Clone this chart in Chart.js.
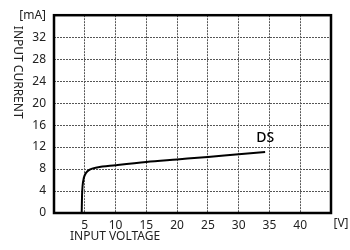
<!DOCTYPE html>
<html>
<head>
<meta charset="utf-8">
<script src="https://cdn.jsdelivr.net/npm/chart.js@4"></script>
<style>
  html, body { margin: 0; padding: 0; background: #fff; }
  #wrap { width: 350px; height: 250px; }
</style>
</head>
<body>
<div id="wrap"><canvas id="chart"></canvas></div>
<script>
// values
const voltage = [4.5, 4.55, 4.65, 4.85, 5.2, 5.8, 7, 10, 15, 20, 25, 30, 34.3];
const current = [0, 3, 5, 6.4, 7.3, 7.9, 8.3, 8.7, 9.3, 9.75, 10.2, 10.7, 11.1];
const seriesName = 'DS';
const xTitle = 'INPUT VOLTAGE';
const yTitle = 'INPUT CURRENT';
const xUnit = '[V]';
const yUnit = '[mA]';

const fontFamily = '"Noto Sans", sans-serif';
const textColor = '#222';

const extras = {
    id: 'extras',
    afterDraw(chart) {
        const ctx = chart.ctx;
        const area = chart.chartArea;
        const xs = chart.scales.x;
        const ys = chart.scales.y;
        ctx.save();
        // frame round the plot
        ctx.strokeStyle = '#000';
        ctx.lineWidth = 2.5;
        ctx.strokeRect(area.left, area.top, area.right - area.left, area.bottom - area.top);

        ctx.fillStyle = textColor;
        ctx.font = '12px ' + fontFamily;
        ctx.textBaseline = 'middle';
        ctx.textAlign = 'center';
        ctx.fillText(xUnit, area.right + 10, area.bottom + 11);

        ctx.textAlign = 'left';
        ctx.fillText(xTitle, area.left + 16, area.bottom + 24);

        ctx.translate(17, area.top + 57);
        ctx.rotate(Math.PI / 2);
        ctx.textAlign = 'center';
        ctx.fillText(yTitle, 0, 0);
        ctx.restore();

        // series label above the end of the curve
        const last = voltage.length - 1;
        ctx.save();
        ctx.fillStyle = '#000';
        ctx.font = '500 14px ' + fontFamily;
        ctx.textAlign = 'center';
        ctx.textBaseline = 'middle';
        ctx.fillText(seriesName, xs.getPixelForValue(voltage[last]), ys.getPixelForValue(current[last]) - 14);
        ctx.restore();
    }
};

new Chart(document.getElementById('chart'), {
    type: 'scatter',
    data: {
        datasets: [{
            label: seriesName,
            data: voltage.map((v, i) => ({ x: v, y: current[i] })),
            showLine: true,
            borderColor: '#000',
            borderWidth: 2,
            pointRadius: 0,
            cubicInterpolationMode: 'monotone'
        }]
    },
    options: {
        responsive: true,
        maintainAspectRatio: false,
        animation: false,
        layout: { padding: { top: 13, right: 19, left: 0, bottom: 0 } },
        plugins: { legend: { display: false }, tooltip: { enabled: false } },
        scales: {
            x: {
                type: 'linear',
                min: 0,
                max: 45,
                afterFit: (scale) => { scale.height = 37; },
                ticks: {
                    stepSize: 5,
                    color: textColor,
                    font: { family: fontFamily, size: 12 },
                    padding: 5,
                    maxRotation: 0,
                    callback: (v) => (v === 0 || v === 45) ? '' : v
                },
                grid: {
                    color: '#555',
                    lineWidth: 1,
                    drawTicks: false
                },
                border: { display: false, dash: [2, 1] }
            },
            y: {
                min: 0,
                max: 36,
                afterFit: (scale) => { scale.width = 54; },
                ticks: {
                    stepSize: 4,
                    color: textColor,
                    font: { family: fontFamily, size: 12 },
                    padding: 8,
                    callback: (v) => v === 36 ? yUnit : v
                },
                grid: {
                    color: '#555',
                    lineWidth: 1,
                    drawTicks: false
                },
                border: { display: false, dash: [2, 1] }
            }
        }
    },
    plugins: [extras]
});
</script>
</body>
</html>
